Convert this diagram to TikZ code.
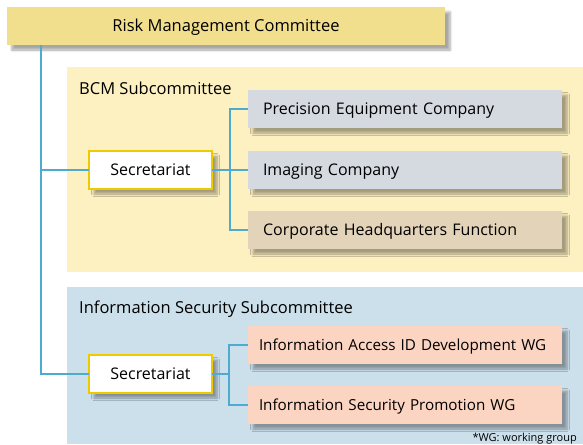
\documentclass[tikz,border=0pt]{standalone}
\usepackage{fontspec}
\setmainfont{Open Sans}
\usetikzlibrary{shadows.blur}
\definecolor{rmcfill}{HTML}{F2DF8E}
\definecolor{bcmfill}{HTML}{FDF1C1}
\definecolor{greyfill}{HTML}{D5DAE1}
\definecolor{tanfill}{HTML}{E3D3B8}
\definecolor{infofill}{HTML}{CCE0EC}
\definecolor{wgfill}{HTML}{FBD4C2}
\definecolor{secborder}{HTML}{EDCB00}
\definecolor{connc}{HTML}{4FAAD0}
\tikzset{
  myshadow/.style={blur shadow={shadow xshift=5pt, shadow yshift=-5pt, shadow blur radius=2.5pt, shadow blur steps=6, shadow opacity=35}},
  regionbox/.style={anchor=north west, inner sep=0pt, outer sep=0pt},
  boxfont/.style={font=\fontsize{16}{18}\selectfont},
  capbox/.style={text height=11.5pt, text depth=0pt},
  unitbox/.style={myshadow, capbox, anchor=north west, minimum height=38pt, inner xsep=15pt, inner ysep=0pt, outer sep=0pt, align=left, boxfont},
  secbox/.style={myshadow, capbox, anchor=north west, minimum width=123pt, minimum height=38pt, inner sep=0pt, outer sep=0pt, fill=white, draw=secborder, line width=1.6pt, boxfont},
  headtext/.style={anchor=base west, inner sep=0pt, font=\fontsize{16.5}{18}\selectfont},
  conn/.style={draw=connc, line width=1.4pt}
}
\begin{document}
\begin{tikzpicture}[x=1pt,y=-1pt]
\useasboundingbox (0,0) rectangle (583,444);
% regions
\node[regionbox, fill=bcmfill, minimum width=516pt, minimum height=205pt] (bcm) at (67,67) {};
\node[regionbox, fill=infofill, minimum width=516pt, minimum height=157pt] (info) at (67,287) {};
\node[headtext] (bcmtitle) at (79,94) {BCM Subcommittee};
\node[headtext] (infotitle) at (79,313) {Information Security Subcommittee};
% top committee
\node[myshadow, capbox, anchor=north west, fill=rmcfill, minimum width=438pt, minimum height=38pt, inner sep=0pt, outer sep=0pt, font=\fontsize{16.5}{18}\selectfont] (rmc) at (7,7) {Risk Management Committee};
% secretariats
\node[secbox] (sec1) at (89,151) {Secretariat};
\node[secbox] (sec2) at (89,355) {Secretariat};
% units
\node[unitbox, fill=greyfill, text width=284pt] (pe) at (248,90) {Precision Equipment Company};
\node[unitbox, fill=greyfill, text width=284pt] (ic) at (248,151) {Imaging Company};
\node[unitbox, fill=tanfill, text width=284pt] (chq) at (248,211) {Corporate Headquarters Function};
\node[unitbox, fill=wgfill, text width=292pt, inner xsep=11pt, font=\fontsize{15.2}{18}\selectfont] (wg1) at (248,326) {Information Access ID Development WG};
\node[unitbox, fill=wgfill, text width=292pt, inner xsep=11pt, font=\fontsize{15.2}{18}\selectfont] (wg2) at (248,386) {Information Security Promotion WG};
\node[anchor=base east, inner sep=0pt, font=\fontsize{11}{13}\selectfont] (note) at (577,441) {*WG: working group};
% connectors
\coordinate (trunk) at (41,45);
\coordinate (br1) at (230,170);
\coordinate (br2) at (229,374);
\draw[conn] (trunk) |- (sec2.west);
\draw[conn] (trunk |- sec1.west) -- (sec1.west);
\draw[conn] (sec1.east) -- (br1);
\draw[conn] (br1) |- (pe.west);
\draw[conn] (br1) |- (chq.west);
\draw[conn] (br1) -- (ic.west);
\draw[conn] (sec2.east) -- (br2);
\draw[conn] (br2) |- (wg1.west);
\draw[conn] (br2) |- (wg2.west);
\end{tikzpicture}
\end{document}
